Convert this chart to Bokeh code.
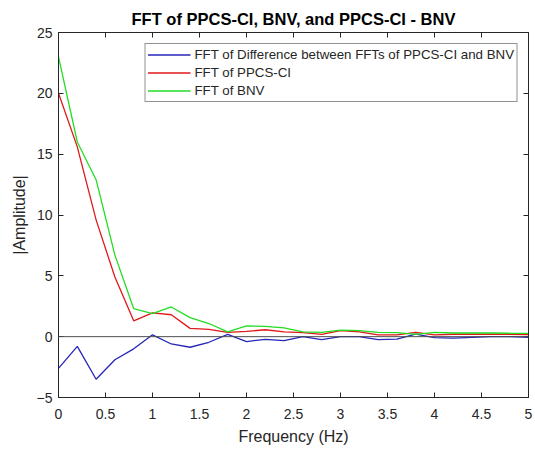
from bokeh.plotting import figure
from bokeh.models import LinearAxis, Span, Legend, LegendItem, FixedTicker, Range1d
from bokeh.embed import file_html
from bokeh.resources import INLINE

freq = [0.0, 0.2, 0.4, 0.6, 0.8, 1.0, 1.2, 1.4, 1.6, 1.8, 2.0, 2.2, 2.4, 2.6,
        2.8, 3.0, 3.2, 3.4, 3.6, 3.8, 4.0, 4.2, 4.4, 4.6, 4.8, 5.0]
diff_fft = [-2.6, -0.8, -3.5, -1.9, -1.0, 0.15, -0.6, -0.87, -0.46, 0.19, -0.4, -0.22,
            -0.33, 0.0, -0.25, 0.0, 0.0, -0.25, -0.2, 0.2, -0.08, -0.12, -0.05, 0.0, 0.0, -0.05]
ppcs_fft = [20.0, 15.6, 9.6, 4.9, 1.3, 1.95, 1.8, 0.68, 0.6, 0.35, 0.43, 0.57, 0.4,
            0.33, 0.19, 0.49, 0.4, 0.14, 0.14, 0.35, 0.14, 0.2, 0.2, 0.2, 0.2, 0.18]
bnv_fft = [23.0, 16.0, 12.9, 6.7, 2.3, 1.9, 2.44, 1.57, 1.08, 0.4, 0.89, 0.84, 0.73,
           0.4, 0.35, 0.54, 0.49, 0.35, 0.33, 0.19, 0.35, 0.3, 0.3, 0.3, 0.28, 0.27]
x_ticks = [0, 0.5, 1, 1.5, 2, 2.5, 3, 3.5, 4, 4.5, 5]
y_ticks = [-5, 0, 5, 10, 15, 20, 25]

FONT = "Liberation Sans"
INK = "#262626"

p = figure(width=533, height=447, output_backend="svg", toolbar_location=None,
           x_range=Range1d(0, 5), y_range=Range1d(-5, 25),
           min_border_left=58, min_border_right=5, min_border_top=32, min_border_bottom=45,
           title="FFT of PPCS-CI, BNV, and PPCS-CI - BNV")
p.title.align = "center"
p.title.text_font = FONT
p.title.text_font_size = "16.5px"
p.title.text_font_style = "bold"
p.title.text_color = "black"
p.title.offset = 0
p.title.standoff = 9
p.grid.visible = False
p.outline_line_color = INK
p.background_fill_color = "white"
p.border_fill_color = "white"

for ax in [p.xaxis[0], p.yaxis[0]]:
    ax.major_tick_in = 5
    ax.major_tick_out = 0
    ax.minor_tick_in = 0
    ax.minor_tick_out = 0
    ax.axis_line_color = INK
    ax.major_tick_line_color = INK
    ax.major_label_text_font = FONT
    ax.major_label_text_font_size = "14px"
    ax.major_label_text_color = INK
    ax.axis_label_text_font = FONT
    ax.axis_label_text_font_size = "16px"
    ax.axis_label_text_font_style = "normal"
    ax.axis_label_text_color = INK

p.xaxis[0].ticker = FixedTicker(ticks=x_ticks)
p.yaxis[0].ticker = FixedTicker(ticks=y_ticks)
p.xaxis[0].axis_label = "Frequency (Hz)"
p.yaxis[0].axis_label = "|Amplitude|"
p.xaxis[0].major_label_standoff = 11
p.xaxis[0].axis_label_standoff = 6
p.yaxis[0].major_label_standoff = 6
p.yaxis[0].axis_label_standoff = 6

top = LinearAxis(ticker=FixedTicker(ticks=x_ticks), major_tick_in=5, major_tick_out=0,
                 minor_tick_in=0, minor_tick_out=0,
                 major_label_overrides={t: "" for t in x_ticks},
                 major_label_standoff=0, axis_line_color=INK, major_tick_line_color=INK)
right = LinearAxis(ticker=FixedTicker(ticks=y_ticks), major_tick_in=5, major_tick_out=0,
                   minor_tick_in=0, minor_tick_out=0,
                   major_label_overrides={t: "" for t in y_ticks},
                   major_label_standoff=0, axis_line_color=INK, major_tick_line_color=INK)
p.add_layout(top, "above")
p.add_layout(right, "right")

p.add_layout(Span(location=0, dimension="width", line_color="#4d4d4d", line_width=1))

r1 = p.line(freq, diff_fft, line_color="#2626b8", line_width=1.3)
r2 = p.line(freq, ppcs_fft, line_color="#e01818", line_width=1.3)
r3 = p.line(freq, bnv_fft, line_color="#22dd22", line_width=1.3)

legend = Legend(items=[
    LegendItem(label="FFT of Difference between FFTs of PPCS-CI and BNV", renderers=[r1]),
    LegendItem(label="FFT of PPCS-CI", renderers=[r2]),
    LegendItem(label="FFT of BNV", renderers=[r3]),
], location="top_right")
legend.margin = 11
legend.padding = 2
legend.spacing = 1
legend.glyph_width = 43
legend.glyph_height = 17
legend.label_height = 17
legend.label_standoff = 4
legend.label_text_font = FONT
legend.label_text_font_size = "13.3px"
legend.label_text_color = INK
legend.border_line_color = INK
legend.border_line_width = 1
legend.background_fill_alpha = 1
p.add_layout(legend)

open("out.html", "w").write(file_html(p, INLINE))
